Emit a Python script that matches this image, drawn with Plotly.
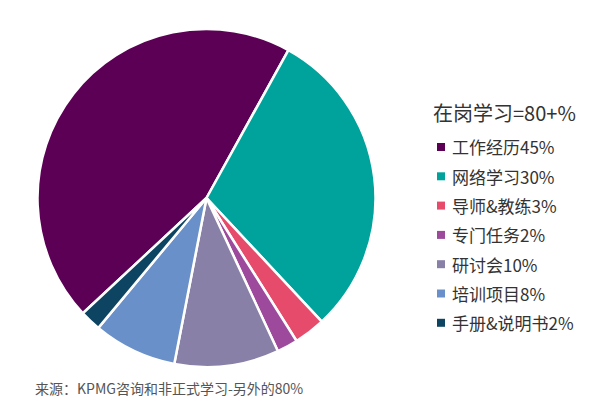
import plotly.graph_objects as go

# datos del gráfico
categorias = ['工作经历', '网络学习', '导师&教练', '专门任务', '研讨会', '培训项目', '手册&说明书']
porcentajes = [45, 30, 3, 2, 10, 8, 2]
colores = ['#5C0055', '#00A39B', '#E64B6B', '#9E4A9C', '#8980A8', '#6A90C9', '#0D4462']
titulo_leyenda = '在岗学习=80+%'
fuente = '来源：KPMG咨询和非正式学习-另外的80%'

# la página html añade 8px de margen al body
OFF = 8
def px_x(x):
    return (x - OFF) / 600
def px_y(y):
    return 1 - (y - OFF) / 400

fig = go.Figure(go.Pie(
    labels=categorias,
    values=porcentajes,
    marker=dict(colors=colores, line=dict(color='white', width=2.5)),
    sort=False,
    direction='clockwise',
    rotation=-133,  # para que 工作经历 termine arriba a la derecha
    textinfo='none',
    hoverinfo='label+percent',
    domain=dict(x=[px_x(37), px_x(376)], y=[px_y(367), px_y(29)]),
    showlegend=False,
))

fuente_cjk = 'Noto Sans CJK SC, Noto Sans, sans-serif'

# leyenda hecha a mano (el espaciado de la leyenda de plotly es demasiado pequeño)
fig.add_annotation(x=px_x(431), y=px_y(112), xref='paper', yref='paper',
                   text=titulo_leyenda, showarrow=False, xanchor='left', yanchor='middle',
                   font=dict(family=fuente_cjk, size=20, color='#333333'))

y0 = 147
paso = 29.3
for i, (cat, pct, col) in enumerate(zip(categorias, porcentajes, colores)):
    yc = y0 + i * paso
    fig.add_shape(type='rect', xref='paper', yref='paper',
                  x0=px_x(437), x1=px_x(445), y0=px_y(yc + 4), y1=px_y(yc - 4),
                  fillcolor=col, line=dict(width=0))
    fig.add_annotation(x=px_x(450), y=px_y(yc), xref='paper', yref='paper',
                       text=f'{cat}{pct}%', showarrow=False, xanchor='left', yanchor='middle',
                       font=dict(family=fuente_cjk, size=17, color='#333333'))

fig.add_annotation(x=px_x(33), y=px_y(388), xref='paper', yref='paper',
                   text=fuente, showarrow=False, xanchor='left', yanchor='middle',
                   font=dict(family=fuente_cjk, size=14, color='#555555'))

fig.update_layout(
    width=600, height=400,
    margin=dict(l=0, r=0, t=0, b=0),
    paper_bgcolor='white',
    plot_bgcolor='white',
)

fig.write_html("out.html")
